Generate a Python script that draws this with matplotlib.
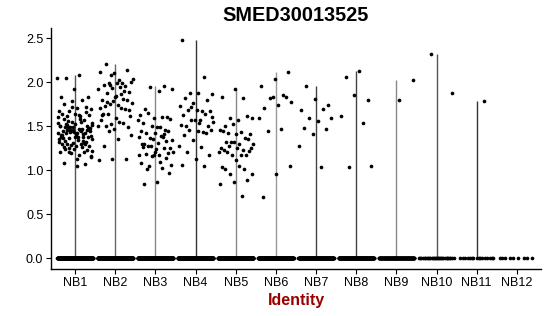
import matplotlib
matplotlib.use("Agg")
import matplotlib.pyplot as plt
import numpy as np

plt.rcParams['font.family'] = ['Liberation Sans', 'DejaVu Sans']

# ---- data ----
identities = ["NB1", "NB2", "NB3", "NB4", "NB5", "NB6", "NB7", "NB8", "NB9", "NB10", "NB11", "NB12"]

nb1 = [2.05, 2.08, 2.05, 1.83, 1.92, 1.83, 1.80, 1.67, 1.69, 1.71, 1.75, 1.72, 1.72, 1.67,
       1.61, 1.61, 1.63, 1.64, 1.64, 1.57, 1.49, 1.51, 1.47, 1.49, 1.50, 1.49, 1.50, 1.47,
       1.49, 1.44, 1.42, 1.44, 1.42, 1.44, 1.42, 1.45, 1.42, 1.38, 1.37, 1.38, 1.37, 1.36,
       1.39, 1.37, 1.26, 1.32, 1.31, 1.32, 1.30, 1.30, 1.27, 1.27, 1.30, 1.21, 1.19, 1.22,
       1.17, 1.24, 1.23, 1.24, 1.20, 1.26, 1.21, 1.16, 1.04, 1.08, 1.07, 1.55, 1.53, 1.58,
       1.46, 1.48, 1.52, 1.40, 1.41, 1.43, 1.35, 1.34, 1.33, 1.45, 1.46, 1.50, 1.54, 1.56,
       1.48, 1.39, 1.36, 1.29, 1.28, 1.60, 1.62, 1.52, 1.47, 1.43, 1.40, 1.33, 1.25, 1.15,
       1.12, 1.58, 1.66, 1.78, 1.35, 1.44, 1.51, 1.47, 1.41, 1.38, 1.31, 1.45, 1.53]
nb2 = [2.08, 2.03, 2.02, 2.21, 2.14, 2.10, 2.11, 1.99, 1.99, 2.00, 1.99, 1.97, 1.95, 1.93,
       1.92, 1.94, 1.88, 1.89, 1.83, 1.80, 1.81, 1.75, 1.76, 1.74, 1.73, 1.80, 1.78, 1.71,
       1.70, 1.64, 1.61, 1.59, 1.64, 1.69, 1.52, 1.50, 1.55, 1.50, 1.49, 1.47, 1.57, 1.53,
       1.44, 1.40, 1.35, 1.27, 1.12, 1.12, 1.11, 1.86, 1.77, 1.68, 1.84, 1.62, 1.90, 1.97]
nb3 = [1.95, 1.94, 1.92, 1.90, 1.69, 1.60, 1.59, 1.63, 1.60, 1.65, 1.58, 1.49, 1.53, 1.46,
       1.50, 1.57, 1.49, 1.42, 1.44, 1.42, 1.44, 1.38, 1.36, 1.34, 1.31, 1.30, 1.33, 1.35,
       1.38, 1.39, 1.27, 1.25, 1.24, 1.26, 1.25, 1.27, 1.20, 1.17, 1.18, 1.19, 1.17, 1.08,
       1.02, 1.05, 1.06, 0.86, 0.84, 1.14, 1.16, 1.17, 1.09, 1.01, 0.97, 1.21, 1.29, 1.41]
nb4 = [2.48, 2.06, 1.88, 1.86, 1.87, 1.82, 1.80, 1.76, 1.73, 1.67, 1.68, 1.67, 1.68, 1.62,
       1.64, 1.57, 1.55, 1.57, 1.50, 1.50, 1.57, 1.51, 1.43, 1.45, 1.45, 1.44, 1.40, 1.42,
       1.34, 1.27, 1.26, 1.21, 1.17, 1.12, 1.06, 1.05, 1.72, 1.60, 1.53]
nb5 = [1.92, 1.83, 1.82, 1.59, 1.59, 1.57, 1.50, 1.61, 1.52, 1.45, 1.43, 1.42, 1.41, 1.41,
       1.44, 1.36, 1.32, 1.30, 1.30, 1.32, 1.35, 1.32, 1.25, 1.23, 1.27, 1.25, 1.25, 1.23,
       1.17, 1.17, 1.20, 1.17, 1.20, 1.22, 1.11, 1.03, 1.01, 0.95, 0.95, 1.04, 1.01, 0.89,
       0.86, 0.84, 0.71]
nb6 = [2.11, 2.04, 1.95, 1.85, 1.82, 1.77, 1.74, 1.71, 1.83, 1.83, 1.59, 1.47, 1.44, 1.05,
       0.96, 0.69]
nb7 = [1.95, 1.74, 1.81, 1.68, 1.69, 1.59, 1.59, 1.56, 1.48, 1.47, 1.41, 1.27, 1.03]
nb8 = [2.13, 2.06, 1.80, 1.85, 1.61, 1.53, 1.03, 1.05]
nb9 = [2.02, 1.80]
nb10 = [2.32, 1.87]
nb11 = [1.79]
nb12 = []

n_zero = [420, 380, 380, 380, 380, 260, 220, 220, 160, 30, 16, 9]

# ---- styles ----
line_colors = ["#555555", "#666666", "#888888", "#333333", "#888888", "#999999",
               "#444444", "#444444", "#888888", "#555555", "#333333", "#555555"]

fig = plt.figure(figsize=(5.5, 3.16), dpi=100)
ax = fig.add_axes([51/550, 47/316, 490/550, 241/316])

groups = [nb1, nb2, nb3, nb4, nb5, nb6, nb7, nb8, nb9, nb10, nb11, nb12]
phi = 0.6180339887
for gi, (vals, nz) in enumerate(zip(groups, n_zero)):
    xc = gi + 1
    allvals = list(vals) + [0.0] * nz
    if len(vals) > 0:
        ax.vlines(xc, 0, max(vals), color=line_colors[gi], lw=1.0, zorder=1)
    n = len(allvals)
    offs = np.array([((i * phi + gi * 0.37) % 1.0) - 0.5 for i in range(n)]) * 0.88
    ax.scatter(xc + offs, allvals, s=7, color="black", linewidths=0, zorder=2)

ax.set_xlim(0.4, 12.6)
ax.set_ylim(-0.125, 2.614)
ax.set_xticks(range(1, 13))
ax.set_xticklabels(identities)
ax.set_yticks([0, 0.5, 1.0, 1.5, 2.0, 2.5])
ax.set_yticklabels(["0.0", "0.5", "1.0", "1.5", "2.0", "2.5"])
for s in ["top", "right"]:
    ax.spines[s].set_visible(False)
for s in ["left", "bottom"]:
    ax.spines[s].set_linewidth(1.0)
ax.tick_params(axis="both", labelsize=9, length=3.5, width=0.8, pad=2, colors="black")
ax.set_xlabel("Identity", fontsize=11.5, fontweight="bold", color="#9B0000", labelpad=3)
ax.set_title("SMED30013525", fontsize=14.3, fontweight="bold", pad=5)

fig.savefig("out.png", dpi=100)
